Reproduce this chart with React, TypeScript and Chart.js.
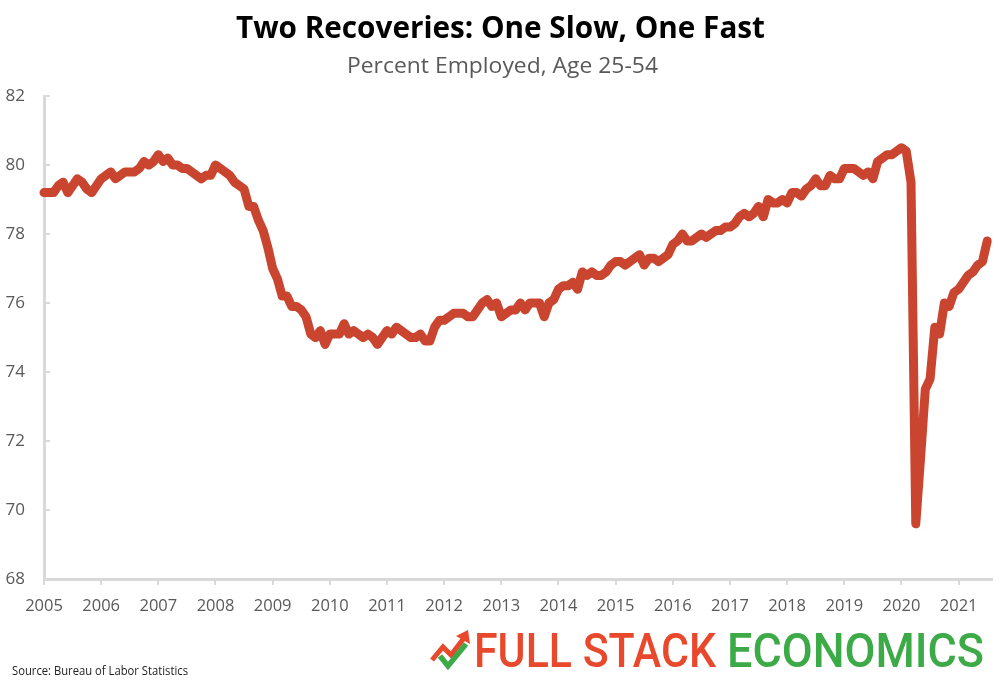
import React, { useEffect, useLayoutEffect, useRef } from "react";
import { Chart, registerables } from "chart.js";

Chart.register(...registerables);

// ---- Data: percent employed, age 25-54 (monthly, Jan 2005 – Jul 2021) ----
const START_YEAR = 2005;
const y2005 = [79.2, 79.2, 79.2, 79.4, 79.5, 79.2, 79.4, 79.6, 79.5, 79.3, 79.2, 79.4];
const y2006 = [79.6, 79.7, 79.8, 79.6, 79.7, 79.8, 79.8, 79.8, 79.9, 80.1, 80.0, 80.1];
const y2007 = [80.3, 80.1, 80.2, 80.0, 80.0, 79.9, 79.9, 79.8, 79.7, 79.6, 79.7, 79.7];
const y2008 = [80.0, 79.9, 79.8, 79.7, 79.5, 79.4, 79.3, 78.8, 78.8, 78.4, 78.1, 77.6];
const y2009 = [77.0, 76.7, 76.2, 76.2, 75.9, 75.9, 75.8, 75.6, 75.1, 75.0, 75.2, 74.8];
const y2010 = [75.1, 75.1, 75.1, 75.4, 75.1, 75.2, 75.1, 75.0, 75.1, 75.0, 74.8, 75.0];
const y2011 = [75.2, 75.1, 75.3, 75.2, 75.1, 75.0, 75.0, 75.1, 74.9, 74.9, 75.3, 75.5];
const y2012 = [75.5, 75.6, 75.7, 75.7, 75.7, 75.6, 75.6, 75.8, 76.0, 76.1, 75.9, 76.0];
const y2013 = [75.6, 75.7, 75.8, 75.8, 76.0, 75.8, 76.0, 76.0, 76.0, 75.6, 76.0, 76.1];
const y2014 = [76.4, 76.5, 76.5, 76.6, 76.4, 76.9, 76.8, 76.9, 76.8, 76.8, 76.9, 77.1];
const y2015 = [77.2, 77.2, 77.1, 77.2, 77.3, 77.4, 77.1, 77.3, 77.3, 77.2, 77.3, 77.4];
const y2016 = [77.7, 77.8, 78.0, 77.8, 77.8, 77.9, 78.0, 77.9, 78.0, 78.1, 78.1, 78.2];
const y2017 = [78.2, 78.3, 78.5, 78.6, 78.5, 78.6, 78.8, 78.5, 79.0, 78.9, 78.9, 79.0];
const y2018 = [78.9, 79.2, 79.2, 79.1, 79.3, 79.4, 79.6, 79.4, 79.4, 79.7, 79.6, 79.6];
const y2019 = [79.9, 79.9, 79.9, 79.8, 79.7, 79.8, 79.6, 80.1, 80.2, 80.3, 80.3, 80.4];
const y2020 = [80.5, 80.4, 79.5, 69.6, 71.5, 73.5, 73.8, 75.3, 75.1, 76.0, 75.9, 76.3];
const y2021 = [76.4, 76.6, 76.8, 76.9, 77.1, 77.2, 77.8];

const yearSeries = [
  y2005, y2006, y2007, y2008, y2009, y2010, y2011, y2012, y2013,
  y2014, y2015, y2016, y2017, y2018, y2019, y2020, y2021,
];

const Y_MIN = 68;
const Y_MAX = 82;
const Y_STEP = 2;
const MONTHS_ON_AXIS = 199; // axis runs to Aug 2021

const TITLE = "Two Recoveries: One Slow, One Fast";
const SUBTITLE = "Percent Employed, Age 25-54";
const SOURCE = "Source: Bureau of Labor Statistics";
const LOGO_A = "FULL STACK";
const LOGO_B = "ECONOMICS";

const values: number[] = yearSeries.flat();

const AXIS_GRAY = "#d9d9d9";
const TEXT_GRAY = "#595959";
const LINE_RED = "#c9452f";
const LOGO_RED = "#e8482b";
const LOGO_GREEN = "#3daa48";

type FitProps = {
  text: string;
  left: number;
  top: number;
  width: number;
  fontSize: number;
  fontWeight?: number;
  color: string;
  family: string;
};

function FitText({ text, left, top, width, fontSize, fontWeight = 400, color, family }: FitProps) {
  const ref = useRef<HTMLSpanElement>(null);
  useLayoutEffect(() => {
    const fit = () => {
      const el = ref.current;
      if (!el) return;
      el.style.transform = "none";
      const w = el.getBoundingClientRect().width;
      if (w > 0) el.style.transform = `scaleX(${width / w})`;
    };
    fit();
    if ((document as any).fonts && (document as any).fonts.ready) {
      (document as any).fonts.ready.then(fit);
    }
  }, [text, width, fontSize]);
  return (
    <span
      ref={ref}
      style={{
        position: "absolute",
        left,
        top,
        whiteSpace: "nowrap",
        transformOrigin: "0 0",
        fontSize,
        fontWeight,
        color,
        fontFamily: family,
        lineHeight: `${fontSize}px`,
      }}
    >
      {text}
    </span>
  );
}

const yInnerTicks = {
  id: "yInnerTicks",
  beforeDatasetsDraw(chart: any) {
    const s = chart.scales.y;
    const ctx = chart.ctx;
    ctx.save();
    ctx.strokeStyle = AXIS_GRAY;
    ctx.lineWidth = 2;
    s.ticks.forEach((t: any) => {
      if (t.value === Y_MIN) return;
      const py = s.getPixelForValue(t.value);
      ctx.beginPath();
      ctx.moveTo(s.right, py);
      ctx.lineTo(s.right + 6, py);
      ctx.stroke();
    });
    ctx.restore();
  },
};

export default function App() {
  const canvasRef = useRef<HTMLCanvasElement>(null);

  useEffect(() => {
    document.body.style.margin = "0";
    const canvas = canvasRef.current;
    if (!canvas) return;
    const chart = new Chart(canvas, {
      type: "line",
      data: {
        datasets: [
          {
            label: SUBTITLE,
            data: values.map((v, i) => ({ x: i, y: v })),
            borderColor: LINE_RED,
            borderWidth: 9,
            pointRadius: 0,
            tension: 0,
            borderJoinStyle: "round",
            borderCapStyle: "round",
            clip: false as any,
          },
        ],
      },
      options: {
        responsive: false,
        animation: false,
        layout: { padding: { top: 96, right: 8, bottom: 0, left: 0 } },
        plugins: {
          legend: { display: false },
          tooltip: { enabled: false },
          title: { display: false },
        },
        scales: {
          x: {
            type: "linear",
            min: 0,
            max: MONTHS_ON_AXIS,
            border: { display: true, color: AXIS_GRAY, width: 3 },
            grid: {
              display: true,
              drawOnChartArea: false,
              drawTicks: true,
              tickLength: 6,
              color: AXIS_GRAY,
              lineWidth: 2,
            },
            ticks: {
              stepSize: 12,
              autoSkip: false,
              includeBounds: false,
              maxRotation: 0,
              padding: 11,
              color: TEXT_GRAY,
              font: { family: "'Open Sans'", size: 16.5 },
              callback: (v: any) => String(START_YEAR + Math.round(Number(v) / 12)),
            },
            afterFit: (scale: any) => {
              scale.height = 107;
            },
          },
          y: {
            type: "linear",
            min: Y_MIN,
            max: Y_MAX,
            border: { display: true, color: AXIS_GRAY, width: 3 },
            grid: { display: false },
            ticks: {
              stepSize: Y_STEP,
              padding: 11,
              color: TEXT_GRAY,
              font: { family: "'Open Sans'", size: 17 },
            },
            afterFit: (scale: any) => {
              scale.width = 44;
            },
          },
        },
      },
      plugins: [yInnerTicks],
    });
    return () => chart.destroy();
  }, []);

  return (
    <div
      style={{
        position: "absolute",
        left: 0,
        top: 0,
        width: 1000,
        height: 686,
        background: "#ffffff",
        overflow: "hidden",
      }}
    >
      <canvas ref={canvasRef} width={1000} height={686} style={{ position: "absolute", left: 0, top: 0 }} />
      <FitText text={TITLE} left={236} top={11} width={529} fontSize={31} fontWeight={700} color="#000000" family="'Open Sans'" />
      <FitText text={SUBTITLE} left={347} top={53} width={311} fontSize={22} fontWeight={400} color={TEXT_GRAY} family="'Open Sans'" />
      <FitText text={SOURCE} left={12} top={665} width={176} fontSize={12} fontWeight={400} color="#222222" family="'Open Sans'" />
      <FitText text={LOGO_A} left={474} top={626} width={242} fontSize={49} fontWeight={500} color={LOGO_RED} family="Roboto" />
      <FitText text={LOGO_B} left={727} top={626} width={257} fontSize={49} fontWeight={500} color={LOGO_GREEN} family="Roboto" />
      <svg width={50} height={50} viewBox="0 0 50 50" style={{ position: "absolute", left: 426, top: 626 }}>
        <polyline points="6,34 17,21 25,29 38,12" fill="none" stroke={LOGO_RED} strokeWidth={5} strokeLinejoin="miter" />
        <polygon points="42,4 44,18 30,10" fill={LOGO_RED} />
        <polyline points="14,30 22,40 40,18" fill="none" stroke={LOGO_GREEN} strokeWidth={5.5} strokeLinejoin="miter" />
      </svg>
    </div>
  );
}
